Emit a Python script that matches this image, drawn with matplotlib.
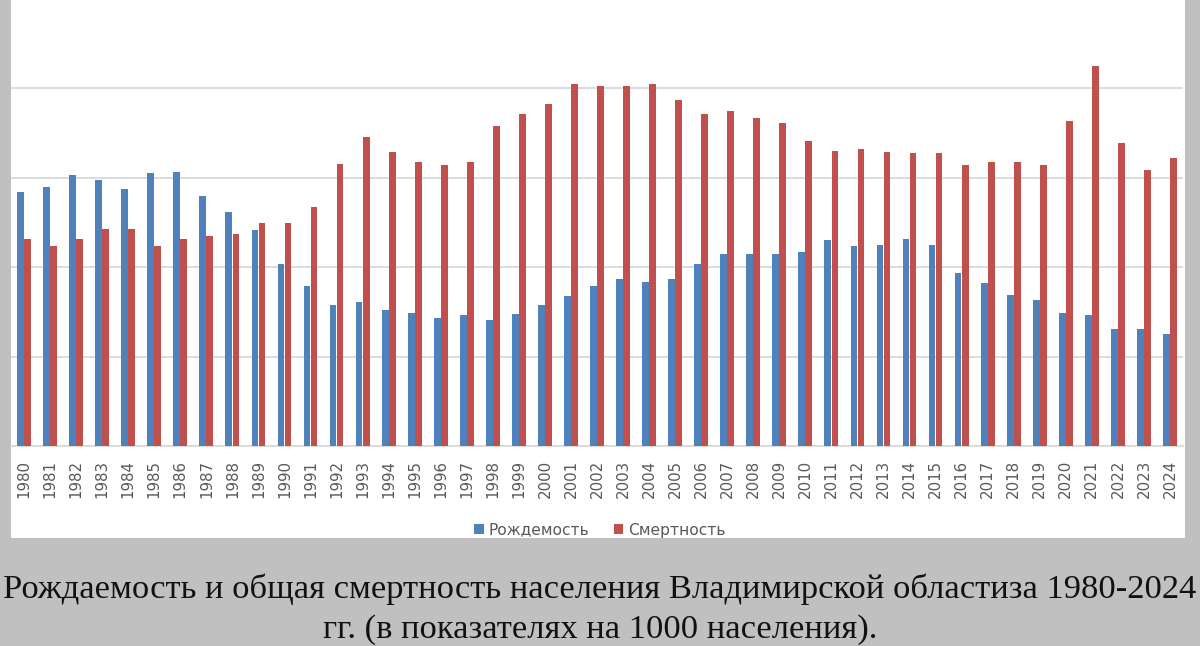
import numpy as np
import matplotlib.pyplot as plt
from matplotlib.patches import Rectangle

# Years and rates per 1000 population
years = list(range(1980, 2025))
births = [14.2, 14.45, 15.15, 14.85, 14.35, 15.25, 15.3, 13.95, 13.05, 12.05,
          10.15, 8.95, 7.9, 8.05, 7.6, 7.45, 7.15, 7.3, 7.05, 7.35,
          7.9, 8.4, 8.95, 9.35, 9.15, 9.35, 10.15, 10.75, 10.75, 10.75,
          10.85, 11.5, 11.15, 11.25, 11.55, 11.25, 9.65, 9.1, 8.45, 8.15,
          7.45, 7.3, 6.55, 6.55, 6.25]
deaths = [11.55, 11.15, 11.55, 12.15, 12.15, 11.15, 11.55, 11.75, 11.85, 12.45,
          12.45, 13.35, 15.75, 17.25, 16.4, 15.85, 15.7, 15.85, 17.85, 18.55,
          19.1, 20.2, 20.1, 20.1, 20.2, 19.35, 18.55, 18.7, 18.3, 18.05,
          17.05, 16.5, 16.6, 16.4, 16.35, 16.35, 15.7, 15.85, 15.85, 15.7,
          18.15, 21.25, 16.95, 15.4, 16.1]
series_names = ['Рождемость', 'Смертность']
colors = ['#4f81bd', '#c0504d']
caption_lines = ['Рождаемость и общая смертность населения Владимирской областиза 1980-2024',
                 'гг. (в показателях на 1000 населения).']

W, H = 1200, 646
fig = plt.figure(figsize=(W / 100, H / 100), dpi=100)
fig.patch.set_facecolor('#c0c0c0')

# white chart panel (behind the axes)
fig.patches.append(Rectangle((11 / W, 1 - 538 / H), (1185 - 11) / W, 538 / H,
                             transform=fig.transFigure, facecolor='white',
                             edgecolor='none', zorder=-1))

ax = fig.add_axes([11 / W, 1 - 446 / H, (1183 - 11) / W, (446 - 2) / H])
ax.set_facecolor('none')

x = np.arange(len(years))
w = 0.26
ax.bar(x - 0.135, births, width=w, color=colors[0], label=series_names[0], zorder=3)
ax.bar(x + 0.135, deaths, width=w, color=colors[1], label=series_names[1], zorder=3)

ax.set_xlim(-0.5, len(years) - 0.5)
ax.set_ylim(0, 444 / 17.9)
ax.set_yticks([0, 5, 10, 15, 20])
ax.yaxis.grid(True, color='#d9d9d9', linewidth=1.3, zorder=0)
ax.tick_params(axis='y', left=False, labelleft=False)
ax.set_xticks(x)
ax.set_xticklabels([str(y) for y in years], rotation=90, fontsize=10.8, color='#595959')
ax.tick_params(axis='x', length=0, pad=10)
for s in ['top', 'right', 'left']:
    ax.spines[s].set_visible(False)
ax.spines['bottom'].set_color('#d9d9d9')
ax.spines['bottom'].set_linewidth(1.3)

leg = fig.legend(loc='center', bbox_to_anchor=(600 / W, 1 - 530 / H), ncol=2,
                 frameon=False, fontsize=11.2, handlelength=0.6, handleheight=0.6,
                 columnspacing=1.6, handletextpad=0.3, borderpad=0.1)
for t in leg.get_texts():
    t.set_color('#595959')

# caption under the chart
fig.text(0.5, 1 - 598 / H, caption_lines[0], ha='center', va='baseline', fontsize=24.8,
         family='Liberation Serif', color='#111111')
fig.text(0.5, 1 - 638 / H, caption_lines[1], ha='center', va='baseline', fontsize=24.8,
         family='Liberation Serif', color='#111111')

fig.savefig('out.png', dpi=100, facecolor=fig.get_facecolor())
